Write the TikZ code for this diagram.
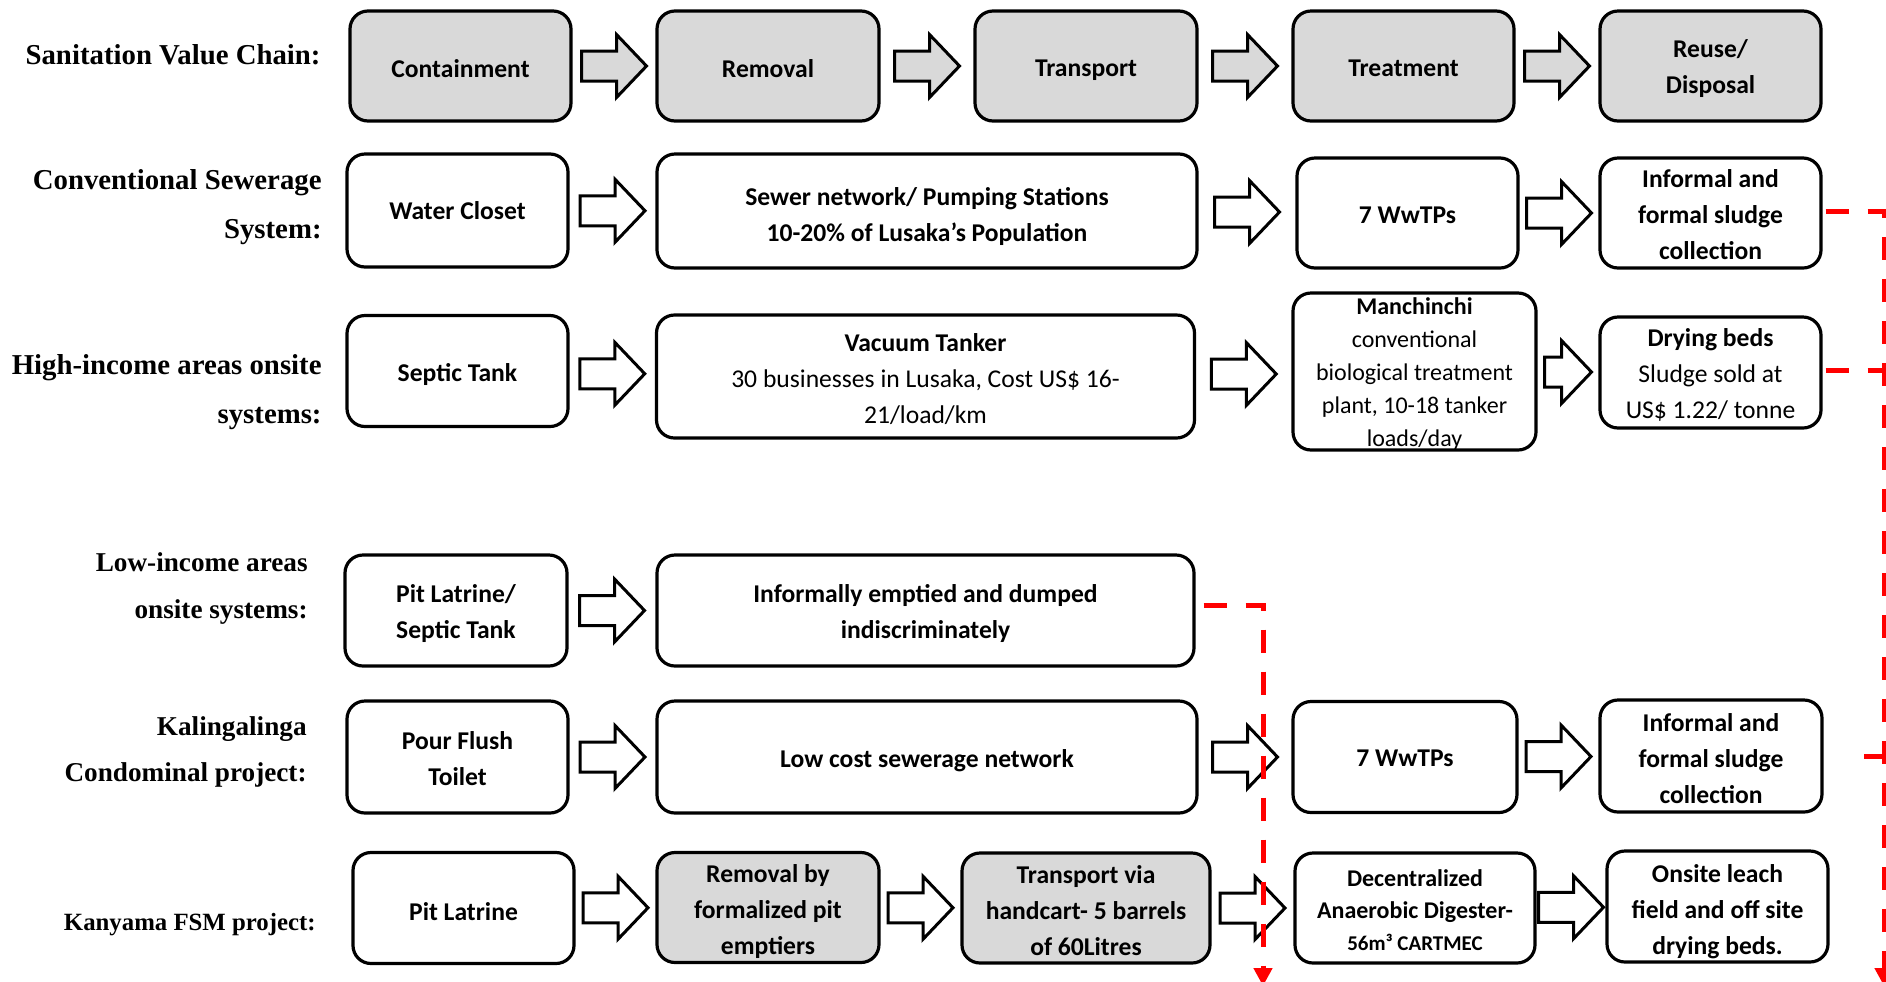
\documentclass[tikz,border=0pt]{standalone}
\usepackage{fontspec}
\setmainfont{Carlito}
\newfontfamily\lblfont{Liberation Serif}
\usetikzlibrary{calc,arrows.meta}

\definecolor{boxgrey}{HTML}{D9D9D9}
\definecolor{flowred}{HTML}{FF0000}

\tikzset{
  box/.style={draw=black, line width=1.6pt, rounded corners=9pt, inner sep=0pt},
  gbox/.style={box, fill=boxgrey},
  % text set inside a stage box, a little below its centre
  boxtext/.style={align=center, inner sep=0pt, yshift=-1.3pt,
    font=\bfseries\fontsize{12.8}{18}\selectfont},
  rowlabel/.style={anchor=east, align=right, inner sep=0pt,
    font=\lblfont\bfseries\fontsize{14.4}{24.5}\selectfont},
  % block arrow drawn in the gap between two boxes; #1 = shaft length
  barrow/.style={draw=black, line width=1.5pt, fill=white, line join=miter,
    to path={let \p1=(\tikztostart.east), \p2=(\tikztotarget.west) in
      ($(\p1)!0.5!(\p2)$) ++({-(#1+15pt)/2},7.5pt) -- ++(#1,0pt)
      -- ++(0pt,8.25pt) -- ++(15pt,-15.75pt) -- ++(-15pt,-15.75pt)
      -- ++(0pt,8.25pt) -- ++({-#1},0pt) -- cycle}},
  barrow/.default=17.5pt,
  redline/.style={draw=flowred, line width=2.5pt, dash pattern=on 11.5pt off 9.5pt},
  redtip/.style={-{Triangle[length=9pt,width=9pt]}}
}

\begin{document}
\begin{tikzpicture}[x=0.5pt,y=-0.5pt]
\fill[white] (0,0) rectangle (1886,981);
\useasboundingbox (0,0) rectangle (1886,981);

% ---- row labels ----
\node[rowlabel] (l1) at (321,55) {Sanitation Value Chain:};
\node[rowlabel] (l2) at (322,207) {Conventional Sewerage\\System:};
\node[rowlabel] (l3) at (322,392) {High-income areas onsite\\systems:};
\node[rowlabel, font=\lblfont\bfseries\fontsize{13.6}{23.5}\selectfont] (l4) at (308,588) {Low-income areas\\onsite systems:};
\node[rowlabel, font=\lblfont\bfseries\fontsize{13.6}{23}\selectfont] (l5) at (307,752) {Kalingalinga\\Condominal project:};
\node[rowlabel, font=\lblfont\bfseries\fontsize{12.4}{20}\selectfont] (l6) at (316,925) {Kanyama FSM project:};

% ---- sanitation value chain ----
\node[gbox, minimum width=110.5pt, minimum height=55pt, label={[boxtext]center:{Containment}}] (con) at (460.5,66) {};
\node[gbox, minimum width=111pt, minimum height=55pt, label={[boxtext]center:{Removal}}] (rem) at (768,66) {};
\node[gbox, minimum width=111pt, minimum height=55pt, label={[boxtext, yshift=-0.6pt]center:{Transport}}] (tra) at (1086,66) {};
\node[gbox, minimum width=110.5pt, minimum height=55pt, label={[boxtext]center:{Treatment}}] (tre) at (1403.5,66) {};
\node[gbox, minimum width=110.5pt, minimum height=55pt, label={[boxtext]center:{Reuse/\\Disposal}}] (reu) at (1710.5,66) {};

% ---- conventional sewerage ----
\node[box, minimum width=110.5pt, minimum height=56.5pt, label={[boxtext, yshift=1pt]center:{Water Closet}}] (wc) at (457.5,210.5) {};
\node[box, minimum width=270pt, minimum height=57pt, label={[boxtext, yshift=-1.7pt]center:{Sewer network/ Pumping Stations\\10-20\% of Lusaka’s Population}}] (sew) at (927,211) {};
\node[box, minimum width=110.5pt, minimum height=55pt, label={[boxtext]center:{7 WwTPs}}] (ww1) at (1407.5,213) {};
\node[box, minimum width=110.5pt, minimum height=55pt, label={[boxtext, yshift=0.5pt]center:{Informal and\\formal sludge\\collection}}] (sl1) at (1710.5,213) {};

% ---- high-income onsite ----
\node[box, minimum width=110.5pt, minimum height=55.5pt, label={[boxtext, yshift=-0.5pt]center:{Septic Tank}}] (st) at (457.5,371) {};
\node[box, minimum width=269pt, minimum height=61.5pt, label={[boxtext]center:{Vacuum Tanker\\\textmd{30 businesses in Lusaka, Cost US\$ 16-}\\\textmd{21/load/km}}}] (vac) at (925.5,376.5) {};
\node[align=center, inner sep=0pt, yshift=-1.5pt, font=\fontsize{12}{16.5}\selectfont] (mantxt) at (1414.5,371.5)
  {\textbf{Manchinchi}\\conventional\\biological treatment\\plant, 10-18 tanker\\loads/day};
\node[box, minimum width=121.5pt, minimum height=78.5pt] (man) at (1414.5,371.5) {};
\node[box, minimum width=110.5pt, minimum height=55.5pt, label={[boxtext]center:{Drying beds\\\textmd{Sludge sold at}\\\textmd{US\$ 1.22/ tonne}}}] (dry) at (1710.5,372.5) {};

% ---- low-income onsite ----
\node[box, minimum width=111pt, minimum height=55.5pt, label={[boxtext]center:{Pit Latrine/\\Septic Tank}}] (pl) at (456,610.5) {};
\node[box, minimum width=268.5pt, minimum height=55.5pt, label={[boxtext]center:{Informally emptied and dumped\\indiscriminately}}] (inf) at (925.5,610.5) {};

% ---- Kalingalinga condominial ----
\node[box, minimum width=110.5pt, minimum height=56pt, label={[boxtext, yshift=0.6pt]center:{Pour Flush\\Toilet}}] (pf) at (457.5,757) {};
\node[box, minimum width=270pt, minimum height=56pt, label={[boxtext, yshift=-0.5pt]center:{Low cost sewerage network}}] (low) at (927,757) {};
\node[box, minimum width=112pt, minimum height=55.5pt, label={[boxtext, yshift=0.6pt]center:{7 WwTPs}}] (ww2) at (1405,757) {};
\node[box, minimum width=111pt, minimum height=56pt, label={[boxtext]center:{Informal and\\formal sludge\\collection}}] (sl2) at (1711,756) {};

% ---- Kanyama FSM ----
\node[box, minimum width=110.5pt, minimum height=55.5pt, label={[boxtext, yshift=-0.5pt]center:{Pit Latrine}}] (pl2) at (463.5,908) {};
\node[gbox, minimum width=111pt, minimum height=55pt, label={[boxtext, yshift=-0.8pt]center:{Removal by\\formalized pit\\emptiers}}] (rbf) at (768,907.5) {};
\node[gbox, minimum width=124pt, minimum height=55pt, label={[boxtext]center:{Transport via\\handcart- 5 barrels\\of 60Litres}}] (tvh) at (1086,908) {};
\node[box, minimum width=120pt, minimum height=55pt, label={[boxtext, font=\bfseries\fontsize{12}{16}\selectfont]center:{Decentralized\\Anaerobic Digester-\\{\fontsize{10.5}{16}\selectfont 56m³ CARTMEC}}}] (dec) at (1415,908) {};
\node[box, minimum width=110.5pt, minimum height=55.5pt, label={[boxtext, yshift=-1.1pt]center:{Onsite leach\\field and off site\\drying beds.}}] (ons) at (1717.5,906.5) {};

% ---- block arrows ----
\draw[barrow, fill=boxgrey] (con) to (rem);
\draw[barrow, fill=boxgrey] (rem) to (tra);
\draw[barrow, fill=boxgrey] (tra) to (tre);
\draw[barrow, fill=boxgrey] (tre) to (reu);

\draw[barrow] (wc) to (sew);
\draw[barrow] (sew) to (ww1);
\draw[barrow] (ww1) to (sl1);

\draw[barrow] (st) to (vac);
\draw[barrow] (vac) to (man);
\draw[barrow=8.5pt] (man) to (dry);

\draw[barrow] (pl) to (inf);

\draw[barrow] (pf) to (low);
\draw[barrow] (low) to (ww2);
\draw[barrow] (ww2) to (sl2);

\draw[barrow] (pl2) to (rbf);
\draw[barrow] (rbf) to (tvh);
\draw[barrow] (tvh) to (dec);
\draw[barrow] (dec) to (ons);

% ---- red dashed sludge flows ----
\coordinate (lbot) at (1263,986);
\coordinate (rbot) at (1884,986);
\draw[redline, redtip] ([xshift=4pt,yshift=2.75pt]inf.east) -| (lbot);
\draw[redline, redtip] ([xshift=1.5pt,yshift=1pt]sl1.east) -| (rbot);
\draw[redline] ([xshift=1.5pt,yshift=1.25pt]dry.east) -- ([yshift=1.25pt]dry.east -| rbot);
\draw[redline, dash pattern=on 10pt off 40pt] (sl2.east -| rbot) -- ([xshift=1.5pt]sl2.east);
\end{tikzpicture}
\end{document}
